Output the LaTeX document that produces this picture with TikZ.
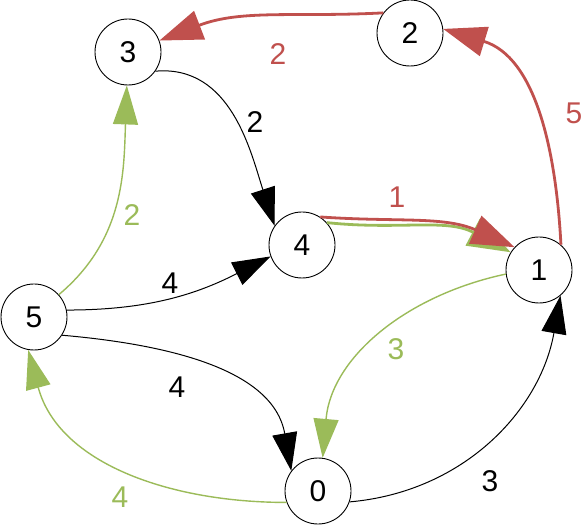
\documentclass[tikz,border=0pt]{standalone}
\usepackage{fontspec}
\setmainfont{Liberation Sans}
\usetikzlibrary{arrows.meta}
\definecolor{ered}{RGB}{192,80,77}
\definecolor{egreen}{RGB}{155,187,89}
\begin{document}
\begin{tikzpicture}[x=1pt,y=1pt,
  vtx/.style={circle,draw=black,line width=0.9pt,minimum size=66pt,inner sep=0pt,fill=white,font=\fontsize{30}{34}\selectfont},
  lbl/.style={inner sep=0pt,font=\fontsize{30}{34}\selectfont},
  thinblack/.style={draw=black,line width=1pt,-{Triangle[length=38pt,width=25pt]}},
  thingreen/.style={draw=egreen,line width=1.4pt,-{Triangle[length=39pt,width=25pt]}},
  thickred/.style={draw=ered,line width=2.8pt,-{Triangle[length=43pt,width=30pt]}},
  thickgreen/.style={draw=egreen,line width=2.8pt,-{Triangle[length=43pt,width=30pt]}}]
\useasboundingbox (0,0) rectangle (586,525);
% nodes
\node[vtx] (n0) at (318,34) {0};
\node[vtx] (n1) at (539,255) {1};
\node[vtx] (n2) at (410,492) {2};
\node[vtx] (n3) at (128,473) {3};
\node[vtx] (n4) at (302,280) {4};
\node[vtx] (n5) at (34,208) {5};
% edges
\draw[thickred] (n2.143) to[out=183,in=21] (n3.20);
\draw[thickred] (n1.49) to[out=93,in=-17] (n2.7);
\draw[thickgreen] (n4.42) to[out=-6,in=152] (n1.148);
\draw[thickred] (n4.57) to[out=-4,in=156] (n1.137);
\draw[thinblack] (n3.-35) to[out=5,in=108] (n4.145);
\draw[thingreen] (n5.42) to[out=40,in=268] (n3.268);
\draw[thinblack] (n5.12) to[out=0,in=207] (n4.200);
\draw[thinblack] (n5.-33) to[out=-5,in=100] (n0.143);
\draw[thingreen] (n1.187) to[out=192,in=85] (n0.82);
\draw[thinblack] (n0.-19) to[out=5,in=260] (n1.-50);
\draw[thingreen] (n0.200) to[out=180,in=285] (n5.260);
% labels
\node[lbl,text=ered] (w23) at (278,471) {2};
\node[lbl,text=ered] (w12) at (574,412) {5};
\node[lbl,text=ered] (w41) at (397,328) {1};
\node[lbl,text=black] (w34) at (255,403) {2};
\node[lbl,text=egreen] (w53) at (132,310) {2};
\node[lbl,text=black] (w54) at (170,242) {4};
\node[lbl,text=black] (w50) at (177,138) {4};
\node[lbl,text=egreen] (w10) at (396,176) {3};
\node[lbl,text=black] (w01) at (490,44) {3};
\node[lbl,text=egreen] (w05) at (120,28) {4};
\end{tikzpicture}
\end{document}
